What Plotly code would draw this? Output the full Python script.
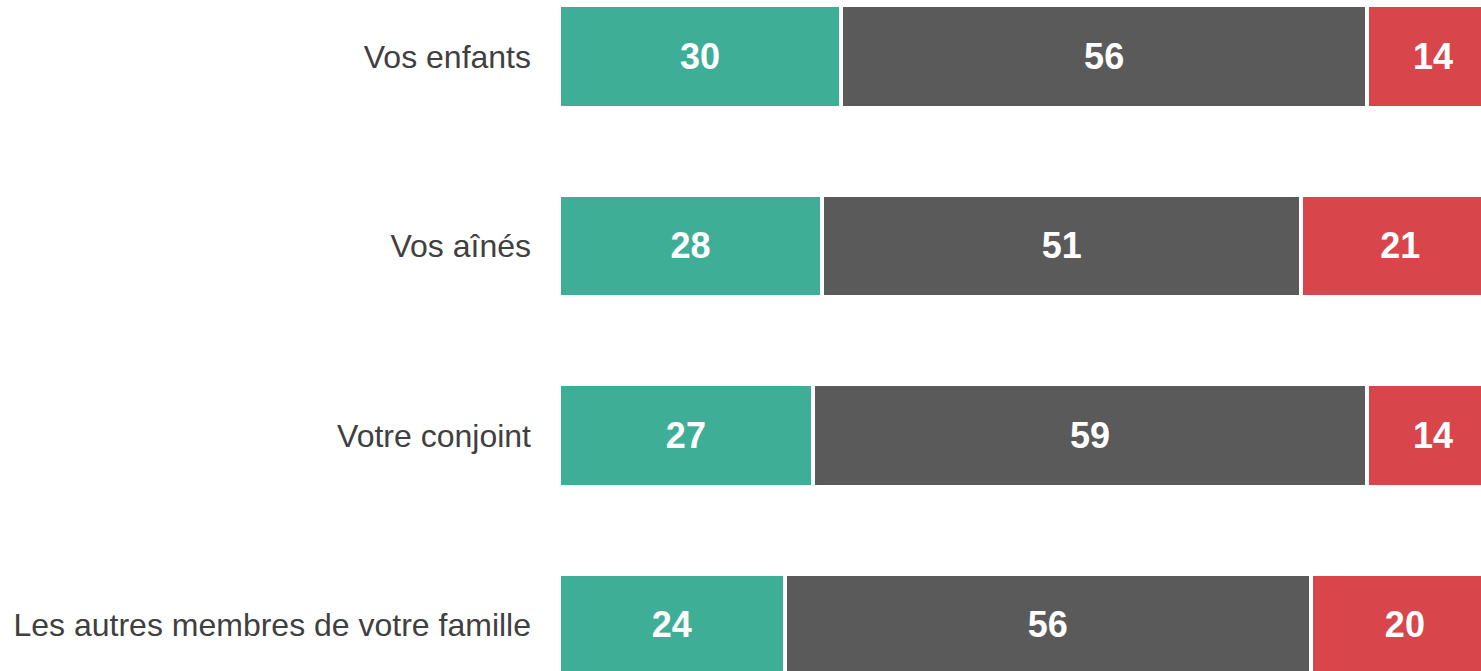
import plotly.graph_objects as go

categories = ["Vos enfants", "Vos aînés", "Votre conjoint", "Les autres membres de votre famille"]
series_names = ["Oui", "Neutre", "Non"]
teal_vals = [30, 28, 27, 24]
gray_vals = [56, 51, 59, 56]
red_vals = [14, 21, 14, 20]

colors = ["#3EAE96", "#5A5A5A", "#D8454B"]
FONT = "Liberation Sans, Arial, sans-serif"

fig = go.Figure()
for name, vals, col in zip(series_names, [teal_vals, gray_vals, red_vals], colors):
    fig.add_trace(go.Bar(
        y=categories, x=vals, orientation="h", name=name,
        width=0.54,
        marker=dict(color=col, line=dict(color="white", width=4)),
        text=[str(v) for v in vals], textposition="inside",
        insidetextanchor="middle",
        textfont=dict(family=FONT, size=36, color="white", weight="bold"),
        hoverinfo="skip",
    ))

fig.update_layout(
    barmode="stack",
    width=1481, height=671,
    margin=dict(l=559, r=0, t=0, b=0),
    paper_bgcolor="white", plot_bgcolor="white",
    showlegend=False,
    xaxis=dict(range=[0, 98.1], showgrid=False, zeroline=False, showticklabels=False,
               showline=False, ticks=""),
    yaxis=dict(type="category", range=[3.2438, -0.2977], showgrid=False, zeroline=False,
               showline=False, ticks="", ticklabelstandoff=27,
               tickfont=dict(family=FONT, size=32, color="#404040")),
)
fig.write_html("out.html",
               config={"displayModeBar": False},
               post_script="document.body.style.margin='0';document.body.style.overflow='hidden';")
